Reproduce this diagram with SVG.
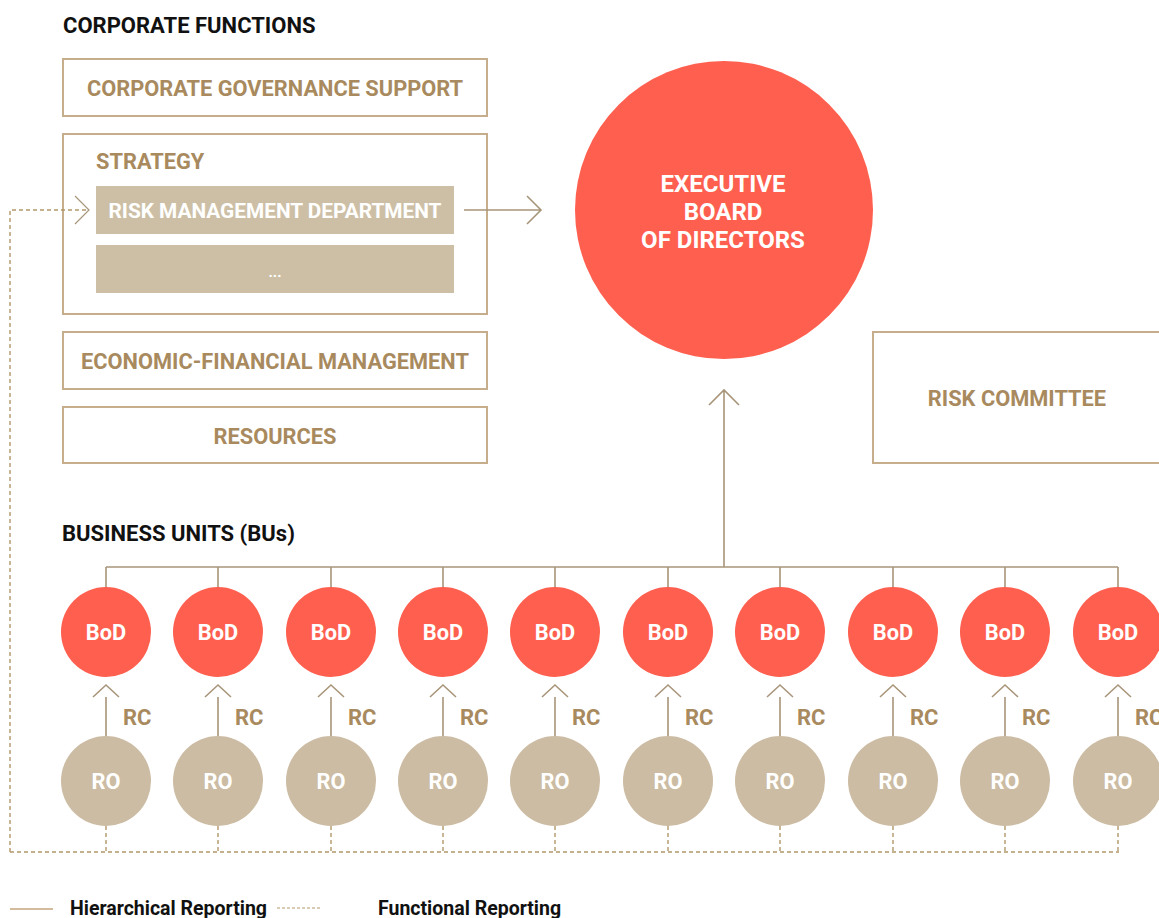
<svg xmlns="http://www.w3.org/2000/svg" width="1159" height="918" viewBox="0 0 1159 918">
<style>
text{font-family:Roboto,"Liberation Sans",sans-serif;font-weight:700}
.h{fill:#111;font-size:22px}
.t{fill:#a88a5e;font-size:21.8px;text-anchor:middle}
.w{fill:#fff;font-size:21.8px;text-anchor:middle}
.box{fill:#fff;stroke:#c6ae8c;stroke-width:2}
.rmd{fill:#cdbfa6}
.red{fill:#ff5f4f}
.ro{fill:#ccbca3}
.sl{fill:none;stroke:#a8957a;stroke-width:1.6}
.dl{fill:none;stroke:#b3986a;stroke-width:1.4;stroke-dasharray:4 3}
.rc{fill:#a88a5e;font-size:22px}
.lg{fill:#111;font-size:19.5px}
</style>
<rect width="1159" height="918" fill="#fff"/>
<text class="h" x="63" y="33">CORPORATE FUNCTIONS</text>
<text class="h" x="62" y="541">BUSINESS UNITS (BUs)</text>
<g id="cgs"><rect class="box" x="63" y="59" width="424" height="57"/><text class="t" x="275" y="96">CORPORATE GOVERNANCE SUPPORT</text></g>
<g id="strategy"><rect class="box" x="63" y="134" width="424" height="180"/><text class="t" x="96" y="169" style="text-anchor:start">STRATEGY</text></g>
<g id="rmd"><rect class="rmd" x="96" y="186" width="358" height="48"/><text class="w" x="275" y="218" style="font-size:20.8px">RISK MANAGEMENT DEPARTMENT</text></g>
<g id="dots"><rect class="rmd" x="96" y="245" width="358" height="48"/><text class="w" x="275" y="277" style="font-size:15px">...</text></g>
<g id="efm"><rect class="box" x="63" y="332" width="424" height="57"/><text class="t" x="275" y="369">ECONOMIC-FINANCIAL MANAGEMENT</text></g>
<g id="res"><rect class="box" x="63" y="407" width="424" height="56"/><text class="t" x="275" y="444">RESOURCES</text></g>
<g id="rc-box"><rect class="box" x="873" y="332" width="300" height="131"/><text class="t" x="1017" y="406">RISK COMMITTEE</text></g>
<g id="exec"><circle class="red" cx="724" cy="210" r="149"/>
<text class="w" x="723" y="192" style="font-size:24px">EXECUTIVE</text>
<text class="w" x="723" y="220" style="font-size:24px">BOARD</text>
<text class="w" x="723" y="248" style="font-size:24px">OF DIRECTORS</text></g>
<g id="connectors">
<path class="sl" d="M464 210H541M527 196L541 210L527 224"/>
<path class="sl" d="M724 567V391M709 405L724 390L739 405"/>
<path class="sl" d="M106 567H1118"/>
<path class="dl" d="M10 852V210H88"/>
<path class="sl" d="M75 196L89 210L75 224" style="stroke-width:1.2"/>
<path class="dl" d="M10 852H1119"/>
<path class="sl" d="M106 567V587M218 567V587M331 567V587M443 567V587M555 567V587M668 567V587M780 567V587M893 567V587M1005 567V587M1118 567V587"/>
<path class="sl" d="M106 697V737M218 697V737M331 697V737M443 697V737M555 697V737M668 697V737M780 697V737M893 697V737M1005 697V737M1118 697V737"/>
<path class="sl" d="M93 697L106 685L119 697M205 697L218 685L231 697M318 697L331 685L344 697M430 697L443 685L456 697M542 697L555 685L568 697M655 697L668 685L681 697M767 697L780 685L793 697M880 697L893 685L906 697M992 697L1005 685L1018 697M1105 697L1118 685L1131 697"/>
<path class="dl" d="M106 826V852M218 826V852M331 826V852M443 826V852M555 826V852M668 826V852M780 826V852M893 826V852M1005 826V852M1118 826V852"/>
</g>
<g id="bod1"><circle class="red" cx="106" cy="632" r="45"/><text class="w" x="106" y="640">BoD</text></g>
<g id="bod2"><circle class="red" cx="218" cy="632" r="45"/><text class="w" x="218" y="640">BoD</text></g>
<g id="bod3"><circle class="red" cx="331" cy="632" r="45"/><text class="w" x="331" y="640">BoD</text></g>
<g id="bod4"><circle class="red" cx="443" cy="632" r="45"/><text class="w" x="443" y="640">BoD</text></g>
<g id="bod5"><circle class="red" cx="555" cy="632" r="45"/><text class="w" x="555" y="640">BoD</text></g>
<g id="bod6"><circle class="red" cx="668" cy="632" r="45"/><text class="w" x="668" y="640">BoD</text></g>
<g id="bod7"><circle class="red" cx="780" cy="632" r="45"/><text class="w" x="780" y="640">BoD</text></g>
<g id="bod8"><circle class="red" cx="893" cy="632" r="45"/><text class="w" x="893" y="640">BoD</text></g>
<g id="bod9"><circle class="red" cx="1005" cy="632" r="45"/><text class="w" x="1005" y="640">BoD</text></g>
<g id="bod10"><circle class="red" cx="1118" cy="632" r="45"/><text class="w" x="1118" y="640">BoD</text></g>
<g id="rcl">
<text class="rc" x="123" y="725">RC</text><text class="rc" x="235" y="725">RC</text><text class="rc" x="348" y="725">RC</text><text class="rc" x="460" y="725">RC</text><text class="rc" x="572" y="725">RC</text><text class="rc" x="685" y="725">RC</text><text class="rc" x="797" y="725">RC</text><text class="rc" x="910" y="725">RC</text><text class="rc" x="1022" y="725">RC</text><text class="rc" x="1135" y="725">RC</text>
</g>
<g id="ro1"><circle class="ro" cx="106" cy="781" r="45"/><text class="w" x="106" y="789">RO</text></g>
<g id="ro2"><circle class="ro" cx="218" cy="781" r="45"/><text class="w" x="218" y="789">RO</text></g>
<g id="ro3"><circle class="ro" cx="331" cy="781" r="45"/><text class="w" x="331" y="789">RO</text></g>
<g id="ro4"><circle class="ro" cx="443" cy="781" r="45"/><text class="w" x="443" y="789">RO</text></g>
<g id="ro5"><circle class="ro" cx="555" cy="781" r="45"/><text class="w" x="555" y="789">RO</text></g>
<g id="ro6"><circle class="ro" cx="668" cy="781" r="45"/><text class="w" x="668" y="789">RO</text></g>
<g id="ro7"><circle class="ro" cx="780" cy="781" r="45"/><text class="w" x="780" y="789">RO</text></g>
<g id="ro8"><circle class="ro" cx="893" cy="781" r="45"/><text class="w" x="893" y="789">RO</text></g>
<g id="ro9"><circle class="ro" cx="1005" cy="781" r="45"/><text class="w" x="1005" y="789">RO</text></g>
<g id="ro10"><circle class="ro" cx="1118" cy="781" r="45"/><text class="w" x="1118" y="789">RO</text></g>
<g id="legend">
<path d="M10 909H53" stroke="#c6a57c" stroke-width="1.6"/>
<text class="lg" x="70" y="915">Hierarchical Reporting</text>
<path d="M277 908H322" stroke="#b3986a" stroke-width="1.2" stroke-dasharray="3 2"/>
<text class="lg" x="378" y="915">Functional Reporting</text>
</g>
</svg>
